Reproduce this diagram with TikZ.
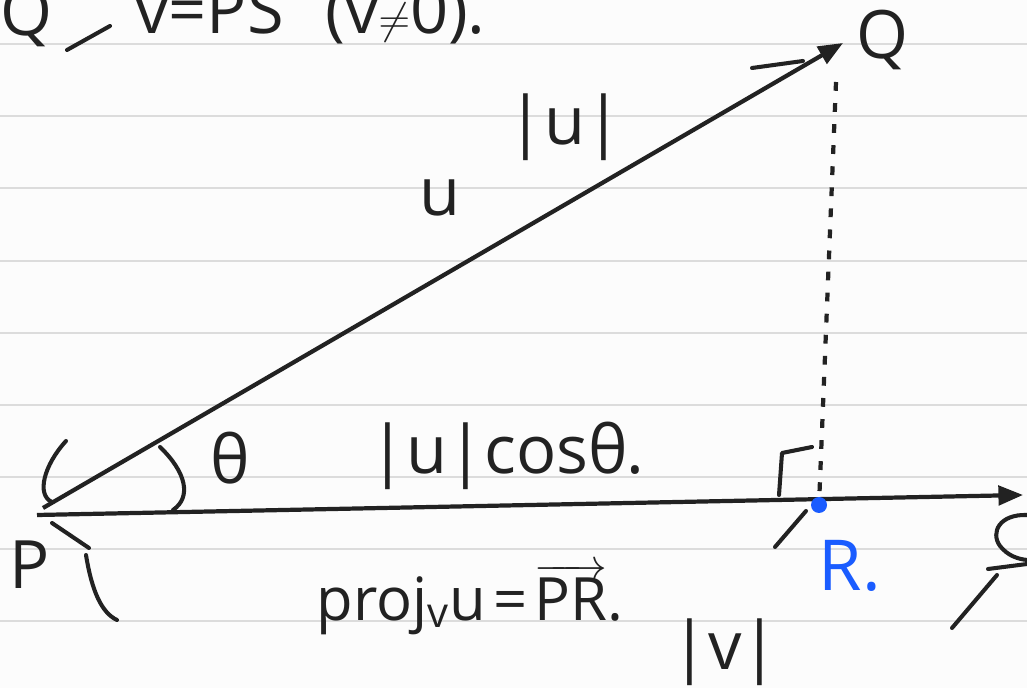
\documentclass[tikz,border=0pt]{standalone}
\usepackage{fontspec}
\setmainfont{Open Sans}
\usetikzlibrary{arrows.meta}
\definecolor{rule}{HTML}{DCDCDC}
\definecolor{ink}{HTML}{222222}
\definecolor{penblue}{HTML}{1A5CFF}
\definecolor{paper}{HTML}{FCFCFC}
\tikzset{
  ruleline/.style={rule, line width=1.1pt},
  vecline/.style={ink, line width=2.4pt, -{Triangle[length=14pt,width=11pt]}},
  stroke/.style={ink, line width=2.3pt, line cap=round, line join=round},
  hand/.style={ink, font=\fontsize{38}{46}\selectfont, inner sep=0pt},
  handsmall/.style={ink, font=\fontsize{34}{40}\selectfont, inner sep=0pt},
  handblue/.style={penblue, font=\fontsize{40}{48}\selectfont, inner sep=0pt},
}
\begin{document}
\begin{tikzpicture}[x=0.02cm, y=-0.02cm]
\useasboundingbox (0,0) rectangle (1027,688);
\clip (0,0) rectangle (1027,688);
\fill[paper] (0,0) rectangle (1027,688);
% ruled lines
\foreach \yy in {44,116,188,261,333,405,477,549,621} {
  \draw[ruleline] (0,\yy) -- (1027,\yy);
}
% coordinates
\coordinate (P) at (37,515);
\coordinate (Pu) at (43,508);
\coordinate (Q) at (843,43);
\coordinate (S) at (1023,495);
\coordinate (R) at (819,505);
\coordinate (Qd) at (836,82);
% vectors
\draw[vecline] (P) -- (S);
\draw[vecline] (Pu) -- (Q);
% dotted perpendicular
\draw[ink, line width=2.4pt, dash pattern=on 5pt off 7pt] (Qd) -- (R);
% right angle mark
\coordinate (ra1) at (779,495);
\coordinate (ra2) at (782,453);
\coordinate (ra3) at (812,447);
\draw[stroke] (ra1) -- (ra2) -- (ra3);
% point R
\fill[penblue] (R) circle (8);
% angle arc
\coordinate (a1) at (160,447);
\coordinate (a2) at (173,510);
\draw[stroke] (a1) .. controls (186,472) and (192,497) .. (a2);
% brace strokes
\coordinate (b1) at (66,441);
\coordinate (b2) at (52,502);
\draw[stroke] (b1) .. controls (44,465) and (36,495) .. (b2);
\coordinate (b3) at (752,68);
\coordinate (b4) at (803,61);
\draw[stroke] (b3) -- (b4);
\coordinate (c1) at (52,523);
\coordinate (c2) at (89,548);
\draw[stroke] (c1) -- (c2);
\coordinate (c3) at (86,555);
\coordinate (c4) at (117,620);
\draw[stroke] (c3) .. controls (92,592) and (102,613) .. (c4);
\coordinate (d1) at (806,511);
\coordinate (d2) at (775,547);
\draw[stroke] (d1) -- (d2);
\coordinate (e1) at (1027,515);
\coordinate (e2) at (1027,560);
\draw[stroke] (e1) .. controls (1000,514) and (990,532) .. (1000,546) .. controls (1008,556) and (1018,559) .. (e2);
\coordinate (e3) at (988,569);
\coordinate (e4) at (1027,564);
\draw[stroke] (e3) -- (e4);
\coordinate (e5) at (997,575);
\coordinate (e6) at (952,628);
\draw[stroke] (e5) -- (e6);
% top (cut) line
\coordinate (t1) at (67,50);
\coordinate (t2) at (110,26);
\draw[stroke] (t1) -- (t2);
\node[hand, anchor=base west] (tq) at (0,36) {Q};
\node[hand, anchor=base west] (tv) at (135,34) {v=PS};
\node[hand, anchor=base west] (tn) at (325,34) {(v$\neq$0).};
% labels
\node[hand] (lQ) at (882,40) {Q};
\node[hand] (lu) at (440,198) {u};
\node[hand] (lnu) at (565,127) {|u|};
\node[hand] (lth) at (230,458) {θ};
\node[hand] (lcos) at (507,456) {|u|cosθ.};
\node[hand] (lP) at (30,565) {P};
\node[handblue] (lR) at (850,566) {R.};
\node[handsmall, anchor=base] (lproj) at (470,620) {proj\textsubscript{v}u$\,$=$\,\overrightarrow{\mbox{PR}}$.};
\node[hand] (lv) at (725,652) {|v|};
\end{tikzpicture}
\end{document}
